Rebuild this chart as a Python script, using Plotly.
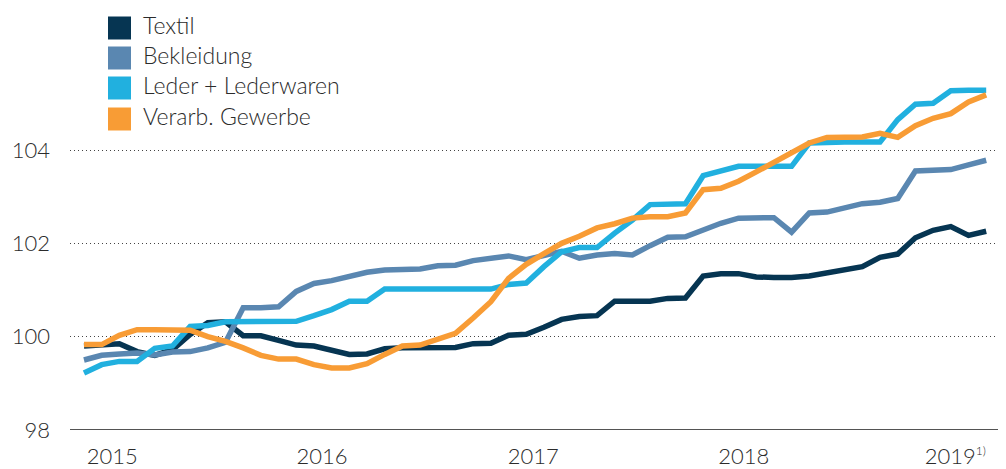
import plotly.graph_objects as go

# ---- data (monthly index, Jan 2015 .. Apr 2019) ----
series_names = ["Textil", "Bekleidung", "Leder + Lederwaren", "Verarb. Gewerbe"]

textil = [99.80, 99.82, 99.85, 99.68, 99.60, 99.72, 100.05, 100.30, 100.32, 100.02,
          100.02, 99.92, 99.82, 99.80, 99.70, 99.62, 99.63, 99.74, 99.76, 99.76,
          99.76, 99.77, 99.85, 99.86, 100.03, 100.05, 100.20, 100.37, 100.43, 100.45,
          100.76, 100.76, 100.76, 100.82, 100.83, 101.30, 101.35, 101.35, 101.28, 101.27,
          101.27, 101.30, 101.37, 101.45, 101.50, 101.70, 101.77, 102.12, 102.28, 102.36,
          102.17, 102.26]

bekleidung = [99.50, 99.60, 99.63, 99.65, 99.61, 99.67, 99.68, 99.76, 99.88, 100.62,
              100.62, 100.64, 100.97, 101.14, 101.20, 101.30, 101.38, 101.43, 101.43, 101.45,
              101.52, 101.53, 101.63, 101.68, 101.73, 101.65, 101.75, 101.83, 101.68, 101.75,
              101.78, 101.75, 101.95, 102.13, 102.14, 102.30, 102.43, 102.54, 102.55, 102.55,
              102.24, 102.65, 102.67, 102.75, 102.85, 102.88, 102.96, 103.55, 103.57, 103.58,
              103.68, 103.78]

leder = [99.22, 99.40, 99.47, 99.47, 99.75, 99.80, 100.22, 100.24, 100.32, 100.32,
         100.32, 100.32, 100.33, 100.45, 100.58, 100.76, 100.76, 101.02, 101.02, 101.02,
         101.02, 101.02, 101.02, 101.02, 101.12, 101.15, 101.50, 101.82, 101.91, 101.91,
         102.22, 102.50, 102.83, 102.85, 102.85, 103.45, 103.55, 103.65, 103.65, 103.65,
         103.65, 104.15, 104.17, 104.17, 104.17, 104.17, 104.65, 104.98, 105.00, 105.27,
         105.28, 105.28]

gewerbe = [99.83, 99.83, 100.03, 100.15, 100.15, 100.15, 100.14, 100.00, 99.90, 99.76,
           99.60, 99.52, 99.52, 99.40, 99.33, 99.33, 99.42, 99.62, 99.80, 99.82,
           99.95, 100.07, 100.40, 100.75, 101.25, 101.55, 101.78, 102.00, 102.15, 102.33,
           102.42, 102.54, 102.57, 102.57, 102.65, 103.15, 103.18, 103.33, 103.53, 103.74,
           103.95, 104.15, 104.27, 104.28, 104.28, 104.36, 104.27, 104.52, 104.68, 104.78,
           105.03, 105.18]

month_index = list(range(len(textil)))

year_labels = ["2015", "2016", "2017", "2018",
               "2019<sup><span style='font-size:12px'>1)</span></sup>"]
year_tick_pos = [1.6, 13.45, 25.4, 37.3, 49.25]

y_ticks = [98, 100, 102, 104]
y_ticktext = ["98", "100", "102", "104"]

colors = ["#063552", "#5a87b1", "#21b0df", "#f89c35"]
all_series = [textil, bekleidung, leder, gewerbe]

FONT = "Lato"
TEXT_COLOR = "#2b2b2b"

# The page body has an 8px margin; lay the figure out so the plot lands where
# the reference has it in the 1006x469 window.
OFF = 8
W, H = 1006, 469
ml, mr, mt, mb = 70 - OFF, OFF, 10 - OFF, H - (430 - OFF)
pw, ph = W - ml - mr, H - mt - mb


def px_to_paper_x(page_px):
    return (page_px - OFF - ml) / pw


def px_to_paper_y(page_py):
    return (H - mb - (page_py - OFF)) / ph


fig = go.Figure()
for name, vals, col in zip(series_names, all_series, colors):
    fig.add_trace(go.Scatter(
        x=month_index, y=vals, mode="lines", name=name,
        line=dict(color=col, width=5.5),
        showlegend=False, hoverinfo="skip",
    ))

# custom legend: squares + labels
legend_rows = [28, 58, 88, 119]
for name, col, cy in zip(series_names, colors, legend_rows):
    fig.add_shape(type="rect", xref="paper", yref="paper",
                  x0=px_to_paper_x(108), x1=px_to_paper_x(131),
                  y0=px_to_paper_y(cy + 11.5), y1=px_to_paper_y(cy - 11.5),
                  fillcolor=col, line=dict(width=0), layer="above")
    fig.add_annotation(xref="paper", yref="paper",
                       x=px_to_paper_x(141), y=px_to_paper_y(cy - 3),
                       text=name, showarrow=False, xanchor="left", yanchor="middle",
                       font=dict(family=FONT, size=23, color=TEXT_COLOR, weight=300))

fig.update_layout(
    width=W, height=H,
    margin=dict(l=ml, r=mr, t=mt, b=mb, autoexpand=False),
    plot_bgcolor="white", paper_bgcolor="white",
    font=dict(family=FONT, size=22, color=TEXT_COLOR, weight=300),
    xaxis=dict(
        range=[-0.79, 52.12],
        tickvals=year_tick_pos, ticktext=year_labels,
        showgrid=False, zeroline=False,
        showline=False, ticks="", ticklabelstandoff=11,
    ),
    yaxis=dict(
        range=[98, 107],
        tickvals=y_ticks, ticktext=y_ticktext,
        showgrid=True, gridcolor="#444444", griddash="1px,3px", gridwidth=1,
        zeroline=False, showline=False, ticks="",
        ticklabelstandoff=19,
    ),
    showlegend=False,
)

# baseline at 98
fig.add_shape(type="line", xref="paper", yref="y", x0=0, x1=1, y0=98, y1=98,
              line=dict(color="#1a1a1a", width=1.6), layer="below")

fig.write_html("out.html")
